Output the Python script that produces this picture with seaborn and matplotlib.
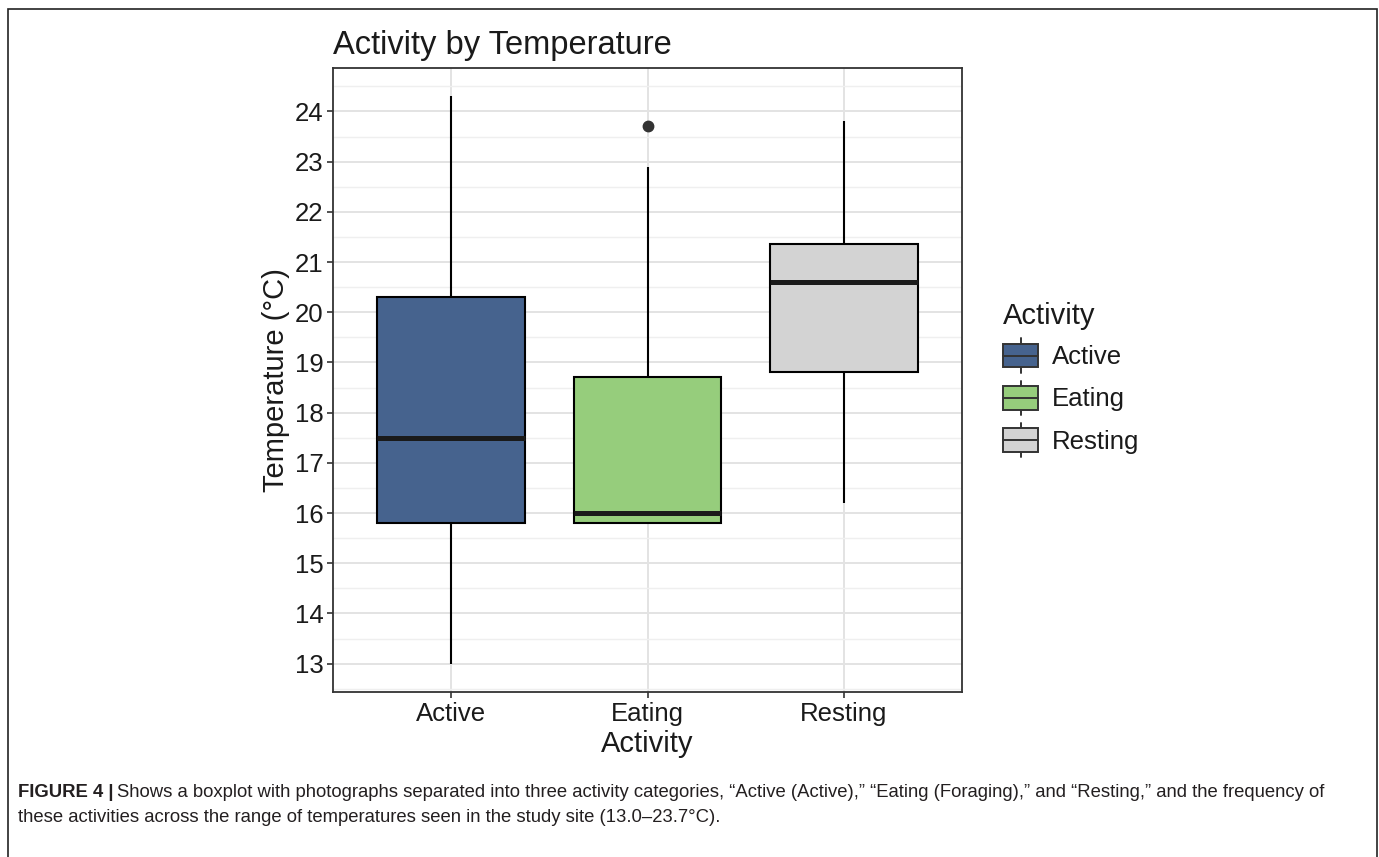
import matplotlib
matplotlib.use("Agg")
import matplotlib.pyplot as plt
import seaborn as sns
import pandas as pd
from matplotlib.patches import Rectangle
from matplotlib.lines import Line2D
from matplotlib.legend_handler import HandlerBase
from matplotlib.ticker import MultipleLocator

# ---- data (values chosen so the box statistics match the figure) ----
categories = ["Active", "Eating", "Resting"]
active_temps = [13.0, 15.8, 17.5, 20.3, 24.3]
eating_temps = [15.8, 15.8, 15.8, 15.9, 16.0, 17.0, 18.7, 22.9, 23.7]
resting_temps = [16.2, 18.8, 20.6, 21.35, 23.8]
colors = ["#46638E", "#96CD7C", "#D3D3D3"]
y_ticks = [13, 14, 15, 16, 17, 18, 19, 20, 21, 22, 23, 24]

df = pd.DataFrame({
    "Activity": ["Active"] * len(active_temps) + ["Eating"] * len(eating_temps)
                + ["Resting"] * len(resting_temps),
    "Temperature": active_temps + eating_temps + resting_temps,
})
palette = dict(zip(categories, colors))

sns.set_theme(style="white")
plt.rcParams["font.family"] = ["Liberation Sans", "DejaVu Sans"]

W, H = 1379, 857
fig = plt.figure(figsize=(W / 100, H / 100), dpi=100)
ax = fig.add_axes([333 / W, 1 - 692 / H, (962 - 333) / W, (692 - 68) / H])

sns.boxplot(
    data=df, x="Activity", y="Temperature", hue="Activity", order=categories,
    hue_order=categories, palette=palette, saturation=1, width=0.75,
    linecolor="black", linewidth=1.5, whis=1.5, showcaps=False, legend=False, ax=ax,
    medianprops=dict(color="#1a1a1a", linewidth=3.6),
    flierprops=dict(marker="o", markersize=7.5, markerfacecolor="#333333",
                    markeredgecolor="#333333"),
    zorder=3,
)

ax.set_xlim(-0.6, 2.6)
ax.set_ylim(12.435, 24.865)
ax.yaxis.set_minor_locator(MultipleLocator(0.5))
ax.set_yticks(y_ticks)
ax.set_yticklabels([str(v) for v in y_ticks])
ax.set_xticks(range(len(categories)))
ax.set_xticklabels(categories)

ax.grid(True, which="major", axis="both", color="#E3E3E3", linewidth=1.4, zorder=0)
ax.grid(True, which="minor", axis="y", color="#EFEFEF", linewidth=1.0, zorder=0)
ax.set_axisbelow(True)
ax.tick_params(axis="y", which="minor", length=0)
ax.tick_params(axis="both", which="major", length=4, width=1.2, color="#333333",
               labelsize=18.5, labelcolor="#1a1a1a", pad=3, direction="out",
               left=True, bottom=True)
for s in ax.spines.values():
    s.set_color("#333333")
    s.set_linewidth(1.3)

ax.set_xlabel("Activity", fontsize=21, color="#1a1a1a", labelpad=3)
ax.set_ylabel("Temperature (°C)", fontsize=21, color="#1a1a1a", labelpad=3)
ax.set_title("Activity by Temperature", fontsize=23.5, loc="left", color="#1a1a1a", pad=10)


class BoxHandler(HandlerBase):
    def create_artists(self, legend, orig_handle, xdescent, ydescent, width, height,
                       fontsize, trans):
        x0, y0 = -xdescent, -ydescent
        bh = height * 0.68
        by = y0 + (height - bh) / 2
        xm = x0 + width / 2
        arts = [
            Line2D([xm, xm], [y0, by], color="#333333", lw=1.4),
            Line2D([xm, xm], [by + bh, y0 + height], color="#333333", lw=1.4),
            Rectangle((x0, by), width, bh, facecolor=orig_handle.get_facecolor(),
                      edgecolor="#333333", lw=1.4),
            Line2D([x0, x0 + width], [by + bh / 2, by + bh / 2], color="#333333", lw=1.4),
        ]
        for a in arts:
            a.set_transform(trans)
        return arts


handles = [Rectangle((0, 0), 1, 1, facecolor=c) for c in colors]
leg = fig.legend(handles, categories, handler_map={Rectangle: BoxHandler()},
                 loc="upper left", bbox_to_anchor=(1003 / W, 1 - 302 / H),
                 frameon=False, prop=dict(size=18.5),
                 title="Activity", alignment="left",
                 handlelength=1.37, handleheight=1.68,
                 labelspacing=0.31, handletextpad=0.55, borderpad=0, borderaxespad=0)
leg._legend_box.sep = 6
leg.get_title().set_fontsize(21)
leg.get_title().set_color("#1a1a1a")
for t in leg.get_texts():
    t.set_color("#1a1a1a")

# outer figure border
fig.patches.append(Rectangle((8 / W, -0.01), (1377 - 8) / W, 1.01 - 9 / H,
                             transform=fig.transFigure, fill=False,
                             edgecolor="#222222", linewidth=1.2, clip_on=False))

cap_kw = dict(fontsize=13.35, color="#231f20", va="baseline")
t1 = fig.text(18 / W, 1 - 797 / H, "FIGURE 4 |", fontweight="bold", **cap_kw)
fig.canvas.draw()
bb = t1.get_window_extent(renderer=fig.canvas.get_renderer())
fig.text(bb.x1 / W + 4 / W, 1 - 797 / H,
         "Shows a boxplot with photographs separated into three activity categories, "
         "\u201cActive (Active),\u201d \u201cEating (Foraging),\u201d and \u201cResting,\u201d "
         "and the frequency of", **cap_kw)
fig.text(18 / W, 1 - 822 / H,
         "these activities across the range of temperatures seen in the study site (13.0\u201323.7\u00b0C).",
         **cap_kw)

fig.savefig("out.png", dpi=100, facecolor="white")
